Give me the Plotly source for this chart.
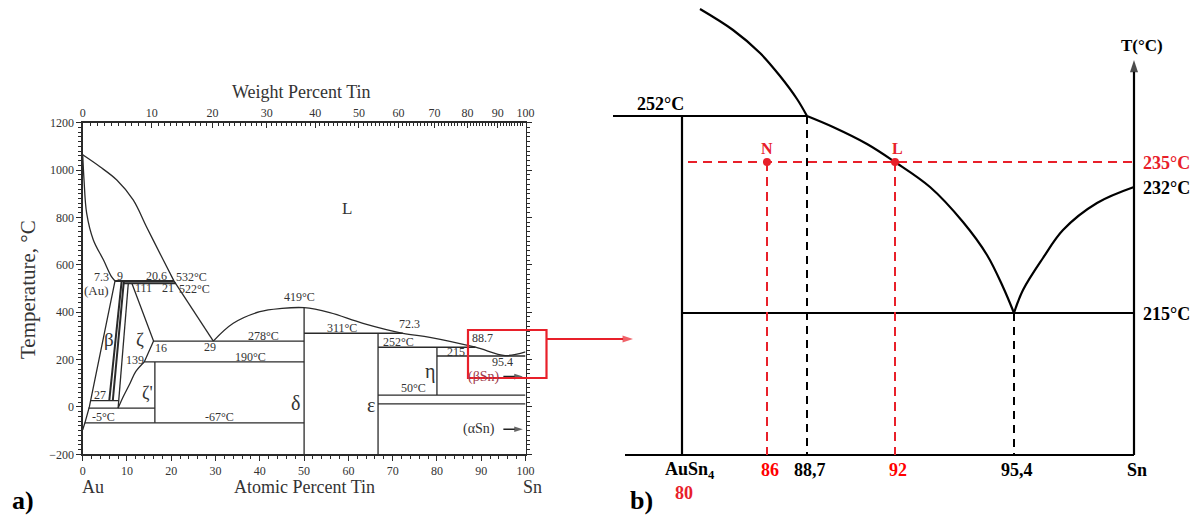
import plotly.graph_objects as go

# ---------------- Panel a: Au-Sn phase diagram (atomic % Sn, deg C) ----------------
liq_au_x = [0, 3.9, 7.7, 11.4, 14.4, 18.2, 20.6]
liq_au_t = [1064.43, 1014, 958, 874, 761, 620, 532]
liq_mid_x = [20.6, 29.5]
liq_mid_t = [532, 278]
sol_au_x = [0, 0.3, 0.9, 2.4, 4.7, 6.5, 7.3]
sol_au_t = [1064.43, 958, 817, 705, 620, 550, 532]
solv_au_x = [7.3, 1.5, 0.5, 0]
solv_au_t = [532, 0, -67, -97]
beta_l_x = [8.8, 6.0]
beta_l_t = [532, 27]
beta_r_x = [9.3, 6.8]
beta_r_t = [532, 27]
zeta_l_x = [10.3, 8.0]
zeta_l_t = [522, -5]
zeta_r_x = [11.1, 16.0, 13.9, 12.0, 10.7, 9.2, 8.0]
zeta_r_t = [522, 278, 190, 150, 100, 45, -5]
liq_r_x = [29.5, 34, 40, 45, 50, 55.8, 63.3, 72.3, 78.4, 88.7, 95.4, 100]
liq_r_t = [278, 353, 402, 416, 419, 398, 353, 311, 294, 252, 217, 232]

# horizontal invariant lines: start, end (at.% Sn), temperature
iso_x0 = [7.3, 9.3, 16.0, 13.9, 1.7, 1.3, 0.5, 50, 66.7, 80, 66.7, 66.7]
iso_x1 = [20.6, 21.0, 50, 50, 8.0, 16.3, 50, 72.3, 88.7, 100, 100, 100]
iso_t = [532, 522, 278, 190, 27, -5, -67, 311, 252, 215, 50, 13]
# vertical compound lines: composition, low T, high T
vert_x = [16.3, 50, 66.7, 80]
vert_t0 = [-67, -200, -200, 50]
vert_t1 = [190, 419, 311, 252]

wt_ticks = [0, 10, 20, 30, 40, 50, 60, 70, 80, 90, 100]
at_ticks = [0, 10, 20, 30, 40, 50, 60, 70, 80, 90, 100]
t_ticks = [-200, 0, 200, 400, 600, 800, 1000, 1200]
M_SN, M_AU = 118.71, 196.97


def wt_to_at(w):
    a = w / M_SN
    b = (100 - w) / M_AU
    return 100 * a / (a + b)


a_lbl_text = ["L", "419°C", "72.3", "311°C", "252°C", "88.7", "215", "95.4", "η", "50°C",
              "ε", "δ", "7.3", "9", "20.6", "532°C", "(Au)", "111", "21", "522°C", "β", "ζ",
              "16", "29", "139", "278°C", "190°C", "27", "ζ'", "-5°C", "-67°C", "(αSn)"]
a_lbl_x = [59.6, 49, 73.9, 58.5, 71.3, 90.2, 84.4, 94.8, 78.4, 74.6,
           65.0, 48.0, 4.3, 8.4, 16.7, 24.6, 3.2, 13.7, 19.3, 25.2, 6.0, 12.9,
           17.6, 28.7, 11.8, 40.8, 37.8, 3.9, 14.6, 4.7, 31, 89.5]
a_lbl_t = [839, 466, 350, 335, 276, 290, 231, 189, 149, 79,
           8, 15, 547, 553, 553, 549, 490, 503, 503, 499, 283, 283,
           248, 252, 198, 300, 212, 50, 60, -41, -43, -94]
a_lbl_size = [17, 12, 12, 12, 12, 12, 12, 12, 20, 12,
              20, 20, 12, 12, 12, 12, 13, 12, 12, 12, 19, 19,
              12, 12, 12, 12, 12, 12, 18, 12, 12, 14]
a_arrow_t = [128, -94]

# ---------------- Panel b: schematic zoom (schematic drawing coordinates) ----------------
b_comp_labels = ["AuSn<sub>4</sub>", "86", "88,7", "92", "95,4", "Sn"]
b_comp_colors = ["black", "red", "black", "red", "black", "black"]
b_comp_x = [682, 767, 807, 895, 1014, 1134]
b_temp_labels = ["252°C", "235°C", "232°C", "215°C"]
b_temp_y = [116, 162, 187, 313]
b_base_y = 455
b_top_curve_x = [700, 733, 760, 780, 797, 807]
b_top_curve_y = [9, 30, 53, 76, 99, 116]
b_liq_x = [807, 833, 867, 895, 930, 963, 987, 1003, 1014]
b_liq_y = [116, 127, 144, 162, 187, 222, 255, 287, 313]
b_sn_x = [1014, 1023, 1043, 1063, 1097, 1134]
b_sn_y = [313, 290, 258, 230, 203, 187]

FONT = "Liberation Serif"
LC = "#2a2a2a"
RED = "#e8202a"

fig = go.Figure()


def add_a(xs, ts, width=1.3, shape="linear", color=LC):
    fig.add_trace(go.Scatter(x=xs, y=ts, mode="lines", xaxis="x", yaxis="y",
                             line=dict(color=color, width=width, shape=shape),
                             hoverinfo="skip", showlegend=False))


def add_b(xs, ys, width=2.2, color="black", dash=None, shape="linear"):
    fig.add_trace(go.Scatter(x=xs, y=ys, mode="lines", xaxis="x3", yaxis="y3",
                             line=dict(color=color, width=width, dash=dash, shape=shape),
                             hoverinfo="skip", showlegend=False))


def add_arrow(xs, ys, xa, ya, color, width, size):
    fig.add_trace(go.Scatter(x=xs, y=ys, mode="lines+markers", xaxis=xa, yaxis=ya,
                             line=dict(color=color, width=width),
                             marker=dict(symbol="arrow", size=[0, size], color=color,
                                         angleref="previous", line=dict(width=0)),
                             hoverinfo="skip", showlegend=False, cliponaxis=False))


add_a(liq_au_x, liq_au_t, shape="spline")
add_a(liq_mid_x, liq_mid_t)
add_a(sol_au_x, sol_au_t, shape="spline")
add_a(solv_au_x, solv_au_t)
add_a(beta_l_x, beta_l_t, width=2)
add_a(beta_r_x, beta_r_t, width=2)
add_a(zeta_l_x, zeta_l_t)
add_a(zeta_r_x[:3], zeta_r_t[:3])
add_a(zeta_r_x[2:], zeta_r_t[2:], shape="spline")
add_a(liq_r_x, liq_r_t, shape="spline")
for x0, x1, t in zip(iso_x0, iso_x1, iso_t):
    w = 2.0 if t in (532, 522) else 1.3
    add_a([x0, x1], [t, t], width=w)
for x, t0, t1 in zip(vert_x, vert_t0, vert_t1):
    add_a([x, x], [t0, t1])
for T in a_arrow_t:
    add_arrow([95.0, 99.4], [T, T], "x", "y", "#222", 1.5, 9)
fig.add_trace(go.Scatter(x=[0], y=[0], xaxis="x2", yaxis="y", mode="markers",
                         marker=dict(opacity=0), hoverinfo="skip", showlegend=False))

comp = dict(zip(["AuSn4", "86", "88.7", "92", "95.4", "Sn"], b_comp_x))
ty = dict(zip([252, 235, 232, 215], b_temp_y))
add_b(b_top_curve_x, b_top_curve_y, shape="spline")
add_b(b_liq_x, b_liq_y, shape="spline")
add_b(b_sn_x, b_sn_y, shape="spline")
add_b([613, comp["88.7"]], [ty[252], ty[252]])
add_b([comp["AuSn4"], comp["AuSn4"]], [ty[252], b_base_y])
add_b([625, comp["Sn"]], [b_base_y, b_base_y])
add_b([comp["AuSn4"], comp["Sn"]], [ty[215], ty[215]])
add_b([comp["88.7"], comp["88.7"]], [ty[252], b_base_y], dash="8px,6px", width=2)
add_b([comp["95.4"], comp["95.4"]], [ty[215], b_base_y], dash="8px,6px", width=2)
add_b([comp["AuSn4"] + 6, comp["Sn"]], [ty[235], ty[235]], color=RED, dash="9px,6px", width=2)
add_b([comp["86"], comp["86"]], [ty[235], b_base_y], color=RED, dash="9px,6px", width=2)
add_b([comp["92"], comp["92"]], [ty[235], b_base_y], color=RED, dash="9px,6px", width=2)
fig.add_trace(go.Scatter(x=[comp["86"], comp["92"]], y=[ty[235], ty[235]], mode="markers",
                         xaxis="x3", yaxis="y3", marker=dict(color=RED, size=8),
                         hoverinfo="skip", showlegend=False))
add_arrow([comp["Sn"], comp["Sn"]], [b_base_y, 60], "x3", "y3", "black", 2.2, 13)
add_arrow([547, 633], [339, 339], "x3", "y3", RED, 1.8, 11)

ann = []
for t, x, T, s in zip(a_lbl_text, a_lbl_x, a_lbl_t, a_lbl_size):
    ann.append(dict(text=t, x=x, y=T, xref="x", yref="y", showarrow=False,
                    font=dict(family=FONT, size=s, color="#333")))
ann.append(dict(text="(βSn)", x=90.6, y=128, xref="x", yref="y", showarrow=False,
                font=dict(family=FONT, size=14, color="#a03a4a")))
ann.append(dict(text="<b>1064.43°C</b>", x=-0.8, y=1064.43, xref="x", yref="y", xanchor="right",
                showarrow=False, font=dict(family=FONT, size=12, color="#222")))
ann.append(dict(text="<b>231.9681°C</b>", x=101.5, y=232, xref="x", yref="y", xanchor="left",
                showarrow=False, font=dict(family=FONT, size=12, color="#222")))
ann.append(dict(text="<b>13°C</b>", x=101.5, y=13, xref="x", yref="y", xanchor="left",
                showarrow=False, font=dict(family=FONT, size=12, color="#222")))

ann += [
    dict(text="Weight Percent Tin", x=301, y=92, xref="x3", yref="y3", showarrow=False,
         font=dict(family=FONT, size=18, color="#333")),
    dict(text="Atomic Percent Tin", x=304, y=487, xref="x3", yref="y3", showarrow=False,
         font=dict(family=FONT, size=18, color="#333")),
    dict(text="Temperature, °C", x=28, y=290, xref="x3", yref="y3", showarrow=False,
         textangle=-90, font=dict(family=FONT, size=21, color="#333")),
    dict(text="Au", x=93, y=487, xref="x3", yref="y3", showarrow=False,
         font=dict(family=FONT, size=18, color="#333")),
    dict(text="Sn", x=532, y=487, xref="x3", yref="y3", showarrow=False,
         font=dict(family=FONT, size=18, color="#333")),
    dict(text="<b>a)</b>", x=23, y=500, xref="x3", yref="y3", showarrow=False,
         font=dict(family=FONT, size=26, color="black")),
    dict(text="<b>b)</b>", x=641, y=500, xref="x3", yref="y3", showarrow=False,
         font=dict(family=FONT, size=26, color="black")),
]

for lab, col, x in zip(b_comp_labels, b_comp_colors, b_comp_x):
    ann.append(dict(text="<b>" + lab + "</b>", x=x + 8 if lab.startswith("Au") else x + 3,
                    y=470, xref="x3", yref="y3",
                    showarrow=False, font=dict(family=FONT, size=18, color=col)))
ann.append(dict(text="<b>80</b>", x=684, y=493, xref="x3", yref="y3", showarrow=False,
                font=dict(family=FONT, size=18, color=RED)))
ann.append(dict(text="<b>252°C</b>", x=660, y=104, xref="x3", yref="y3", showarrow=False,
                font=dict(family=FONT, size=18, color="black")))
for lab, y, col in zip(b_temp_labels[1:], b_temp_y[1:], [RED, "black", "black"]):
    ann.append(dict(text="<b>" + lab + "</b>", x=1141, y=y + 1, xref="x3", yref="y3",
                    xanchor="left", showarrow=False,
                    font=dict(family=FONT, size=18, color=col)))
ann.append(dict(text="<b>N</b>", x=comp["86"], y=148, xref="x3", yref="y3", showarrow=False,
                font=dict(family=FONT, size=16, color=RED)))
ann.append(dict(text="<b>L</b>", x=comp["92"] + 2, y=148, xref="x3", yref="y3", showarrow=False,
                font=dict(family=FONT, size=16, color=RED)))
ann.append(dict(text="<b>T(°C)</b>", x=1142, y=45, xref="x3", yref="y3", showarrow=False,
                font=dict(family=FONT, size=17, color="black")))

shapes = [dict(type="rect", xref="x3", yref="y3", x0=468, x1=546.5, y0=330, y1=378,
               line=dict(color=RED, width=2.2), fillcolor="rgba(0,0,0,0)", layer="above")]

tickfont = dict(family=FONT, size=12, color="#333")
fig.update_layout(
    width=1202, height=516,
    margin=dict(l=0, r=0, t=0, b=0, pad=0, autoexpand=False),
    paper_bgcolor="white", plot_bgcolor="rgba(0,0,0,0)",
    showlegend=False,
    annotations=ann, shapes=shapes,
    xaxis=dict(domain=[82.7 / 1202, 525.5 / 1202], range=[0, 100], anchor="y", automargin=False,
               showline=True, linecolor=LC, linewidth=1.3, showgrid=False, zeroline=False,
               tickvals=at_ticks, ticks="outside", ticklen=5, tickcolor=LC,
               minor=dict(ticks="outside", ticklen=3, dtick=2, tickcolor=LC, showgrid=False),
               tickfont=tickfont),
    xaxis2=dict(overlaying="x", side="top", range=[0, 100], anchor="y", automargin=False,
                showline=True, linecolor=LC, linewidth=1.3, showgrid=False, zeroline=False,
                tickvals=[wt_to_at(w) for w in wt_ticks], ticktext=[str(w) for w in wt_ticks],
                ticks="inside", ticklen=5, tickcolor=LC,
                minor=dict(ticks="inside", ticklen=3, tickcolor=LC, showgrid=False,
                           tickvals=[wt_to_at(w) for w in range(0, 101)]),
                tickfont=tickfont),
    yaxis=dict(domain=[(516 - 454.3) / 516, (516 - 122.7) / 516], range=[-200, 1200],
               anchor="x", automargin=False, showline=True, linecolor=LC, linewidth=1.3,
               mirror="ticks", showgrid=False, zeroline=False, tickvals=t_ticks, ticks="outside",
               ticklen=5, tickcolor=LC,
               minor=dict(ticks="outside", ticklen=3, dtick=20, tickcolor=LC, showgrid=False),
               tickfont=tickfont),
    xaxis3=dict(domain=[0, 1], range=[0, 1202], anchor="y3", visible=False, fixedrange=True,
                automargin=False),
    yaxis3=dict(domain=[0, 1], range=[516, 0], anchor="x3", visible=False, fixedrange=True,
                automargin=False),
)

fig.write_html(
    "out.html",
    config={"displayModeBar": False, "staticPlot": True},
    post_script=("document.body.style.margin='0';"
                 "document.body.style.overflow='hidden';"
                 "document.documentElement.style.overflow='hidden';"),
)
